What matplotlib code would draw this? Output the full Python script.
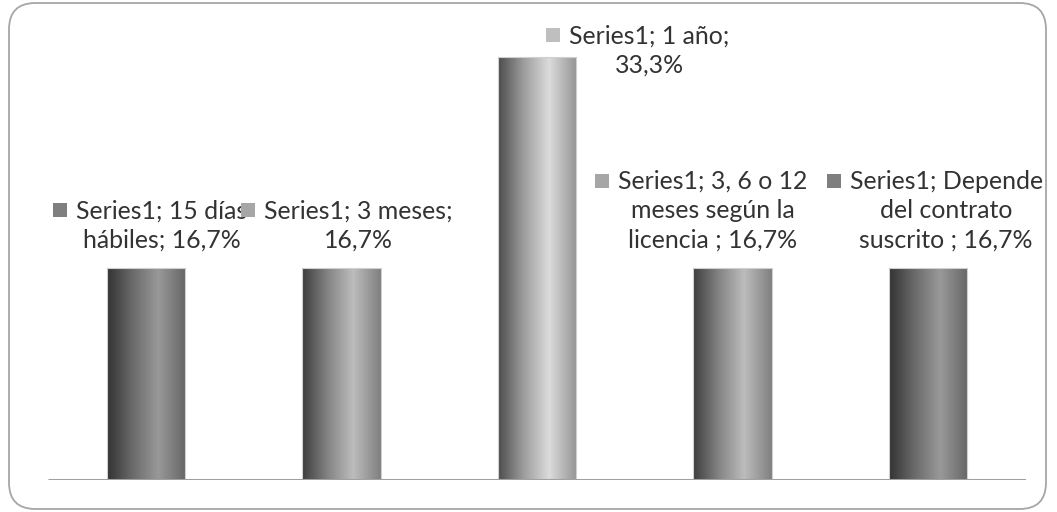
import matplotlib
matplotlib.use("Agg")
import matplotlib.pyplot as plt
import numpy as np
from matplotlib.patches import FancyBboxPatch, Rectangle

categories = ["15 días hábiles", "3 meses", "1 año", "3, 6 o 12 meses según la licencia ", "Depende del contrato suscrito "]
values = [0.167, 0.167, 0.333, 0.167, 0.167]
series_name = "Series1"
# wrapped data label lines as shown in the chart
label_lines = [
    ["Series1; 15 días", "hábiles; 16,7%"],
    ["Series1; 3 meses;", "16,7%"],
    ["Series1; 1 año;", "33,3%"],
    ["Series1; 3, 6 o 12", "meses según la", "licencia ; 16,7%"],
    ["Series1; Depende", "del contrato", "suscrito ; 16,7%"],
]
# gradient stops (left edge, mid, highlight, right edge) per bar
grad_levels = [
    [0.20, 0.42, 0.60, 0.40],
    [0.24, 0.52, 0.74, 0.50],
    [0.30, 0.62, 0.86, 0.58],
    [0.24, 0.52, 0.74, 0.50],
    [0.20, 0.42, 0.60, 0.40],
]
key_colors = ["#7f7f7f", "#a6a6a6", "#bfbfbf", "#a6a6a6", "#7f7f7f"]

plt.rcParams['font.family'] = ['Lato', 'DejaVu Sans']

W, H = 1057, 512
fig = plt.figure(figsize=(W / 100, H / 100), dpi=100)

# rounded border
border = FancyBboxPatch((9 / W, 3 / H), (W - 11 - 9) / W, (H - 6) / H,
                        boxstyle="round,pad=0,rounding_size=0.025",
                        transform=fig.transFigure, facecolor="none",
                        edgecolor="#a6a6a6", linewidth=1.3, mutation_aspect=W / H)
fig.patches.append(border)

ax_left, ax_right = 48, 1026
ax_bottom = 32
px_per_unit = 423 / 0.333
ymax = 0.35
ax_h = ymax * px_per_unit
ax = fig.add_axes([ax_left / W, ax_bottom / H, (ax_right - ax_left) / W, ax_h / H])
ax.axis("off")
ax.patch.set_alpha(0)

x = np.arange(len(values))
bars = ax.bar(x, values, width=0.4, color="none", edgecolor="#d0d0d0", linewidth=0.8, zorder=3)

stops = [0.0, 0.33, 0.65, 1.0]
xs = np.linspace(0, 1, 200)
for b, lv in zip(bars, grad_levels):
    g = np.interp(xs, stops, lv)
    img = np.tile(np.stack([g, g, g], axis=-1)[None, :, :], (2, 1, 1))
    x0, y0 = b.get_x(), b.get_y()
    im = ax.imshow(img, extent=[x0, x0 + b.get_width(), y0, y0 + b.get_height()],
                   aspect="auto", zorder=2, interpolation="bilinear")
    im.set_clip_path(b)

ax.set_xlim(-0.5, len(values) - 0.5)
ax.set_ylim(0, ymax)
ax.plot([-0.5, len(values) - 0.5], [0, 0], color="#a0a0a0", lw=2.2, zorder=4, solid_capstyle="butt")

# font size chosen so label text width matches the reference
fig.canvas.draw()
r = fig.canvas.get_renderer()
probe = fig.text(0, 0, "hábiles; 16,7%", fontsize=10)
pw = probe.get_window_extent(r).width
probe.remove()
fs = 10 * 158 / pw

# label layout: horizontal offset of text block from bar centre (data units),
# baseline of last line (data units)
label_dx = [0.082, 0.087, 0.575, -0.102, 0.092]
label_last_base = [0.1827, 0.1827, 0.3205, 0.1827, 0.1827]
spacing = 29.5 / px_per_unit

first_texts = []
for i, lines in enumerate(label_lines):
    n = len(lines)
    cx = x[i] + label_dx[i]
    for j, line in enumerate(lines):
        yb = label_last_base[i] + (n - 1 - j) * spacing
        t = ax.text(cx, yb, line, ha="center", va="baseline", fontsize=fs,
                    color="#333333", zorder=5)
        if j == 0:
            first_texts.append((t, yb))

fig.canvas.draw()
r = fig.canvas.get_renderer()
inv = ax.transData.inverted()
for i, (t, yb) in enumerate(first_texts):
    bb = t.get_window_extent(r)
    base_px = ax.transData.transform((0, yb))[1]
    sq = 14
    gap = 9
    x1p = bb.x0 - gap
    x0p = x1p - sq
    y0p = base_px + 1
    y1p = y0p + sq
    (dx0, dy0) = inv.transform((x0p, y0p))
    (dx1, dy1) = inv.transform((x1p, y1p))
    ax.add_patch(Rectangle((dx0, dy0), dx1 - dx0, dy1 - dy0, facecolor=key_colors[i],
                           edgecolor="none", zorder=6, clip_on=False))

fig.savefig("out.png", dpi=100)
